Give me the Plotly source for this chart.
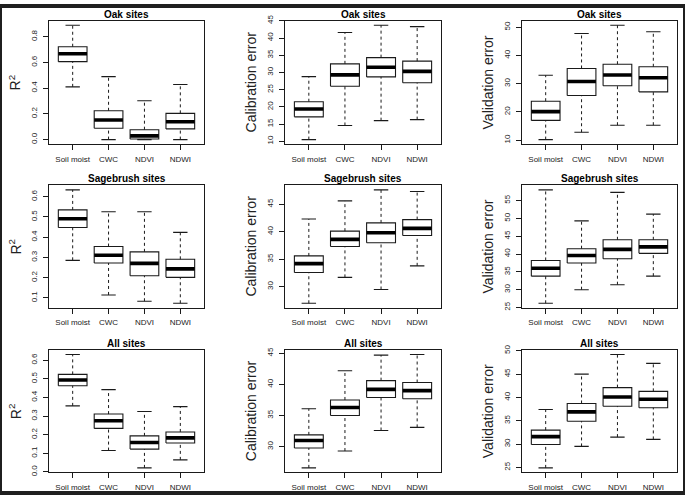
import plotly.graph_objects as go

categories = ["Soil moist", "CWC", "NDVI", "NDWI"]
row_titles = ["Oak sites", "Sagebrush sites", "All sites"]
col_titles = ["R<sup>2</sup>", "Calibration error", "Validation error"]

# ---- Oak sites ----
oak_r2_low = [0.41, 0.0, 0.0, 0.0]
oak_r2_q1 = [0.606, 0.088, 0.005, 0.083]
oak_r2_med = [0.668, 0.152, 0.029, 0.139]
oak_r2_q3 = [0.722, 0.224, 0.077, 0.204]
oak_r2_high = [0.889, 0.49, 0.302, 0.428]

oak_cal_low = [10.5, 14.6, 16.0, 16.3]
oak_cal_q1 = [17.1, 26.0, 28.7, 27.0]
oak_cal_med = [19.4, 29.3, 31.5, 30.3]
oak_cal_q3 = [21.5, 32.5, 34.3, 33.3]
oak_cal_high = [28.8, 41.6, 43.7, 43.3]

oak_val_low = [10.2, 12.8, 15.3, 15.3]
oak_val_q1 = [17.0, 25.8, 29.3, 27.1]
oak_val_med = [20.1, 30.8, 33.1, 32.1]
oak_val_q3 = [23.8, 35.4, 36.9, 36.0]
oak_val_high = [33.0, 47.8, 50.7, 48.4]

# ---- Sagebrush sites ----
sage_r2_low = [0.286, 0.115, 0.084, 0.074]
sage_r2_q1 = [0.448, 0.273, 0.210, 0.202]
sage_r2_med = [0.491, 0.311, 0.271, 0.244]
sage_r2_q3 = [0.535, 0.354, 0.328, 0.291]
sage_r2_high = [0.634, 0.526, 0.526, 0.424]

sage_cal_low = [27.0, 31.7, 29.5, 33.8]
sage_cal_q1 = [32.6, 37.3, 38.0, 39.3]
sage_cal_med = [34.2, 38.6, 39.8, 40.6]
sage_cal_q3 = [35.6, 40.1, 41.6, 42.2]
sage_cal_high = [42.3, 45.6, 47.6, 47.3]

sage_val_low = [26.2, 30.0, 31.4, 33.8]
sage_val_q1 = [33.8, 37.5, 38.7, 40.2]
sage_val_med = [36.0, 39.6, 41.3, 42.0]
sage_val_q3 = [38.2, 41.5, 44.0, 44.0]
sage_val_high = [58.0, 49.3, 57.3, 51.2]

# ---- All sites ----
all_r2_low = [0.355, 0.115, 0.022, 0.065]
all_r2_q1 = [0.463, 0.234, 0.123, 0.156]
all_r2_med = [0.494, 0.275, 0.158, 0.183]
all_r2_q3 = [0.524, 0.311, 0.194, 0.215]
all_r2_high = [0.631, 0.442, 0.325, 0.351]

all_cal_low = [26.6, 29.3, 32.6, 33.1]
all_cal_q1 = [29.8, 35.0, 37.9, 37.7]
all_cal_med = [31.0, 36.3, 39.2, 39.0]
all_cal_q3 = [31.9, 37.5, 40.6, 40.3]
all_cal_high = [36.1, 42.2, 44.7, 44.8]

all_val_low = [24.9, 29.5, 31.5, 31.0]
all_val_q1 = [29.9, 34.9, 38.1, 37.8]
all_val_med = [31.6, 36.9, 40.1, 39.6]
all_val_q3 = [33.0, 38.7, 42.1, 41.3]
all_val_high = [37.4, 45.0, 49.2, 47.3]

panels = [
    [(oak_r2_low, oak_r2_q1, oak_r2_med, oak_r2_q3, oak_r2_high),
     (oak_cal_low, oak_cal_q1, oak_cal_med, oak_cal_q3, oak_cal_high),
     (oak_val_low, oak_val_q1, oak_val_med, oak_val_q3, oak_val_high)],
    [(sage_r2_low, sage_r2_q1, sage_r2_med, sage_r2_q3, sage_r2_high),
     (sage_cal_low, sage_cal_q1, sage_cal_med, sage_cal_q3, sage_cal_high),
     (sage_val_low, sage_val_q1, sage_val_med, sage_val_q3, sage_val_high)],
    [(all_r2_low, all_r2_q1, all_r2_med, all_r2_q3, all_r2_high),
     (all_cal_low, all_cal_q1, all_cal_med, all_cal_q3, all_cal_high),
     (all_val_low, all_val_q1, all_val_med, all_val_q3, all_val_high)],
]

# tick settings (tick0, dtick, format)
ticks = [
    [(0.0, 0.2, ".1f"), (10, 5, "d"), (10, 10, "d")],
    [(0.1, 0.1, ".1f"), (30, 5, "d"), (25, 5, "d")],
    [(0.0, 0.1, ".1f"), (30, 5, "d"), (25, 5, "d")],
]

W, H = 685, 497
col_px = [(49, 204), (285, 441), (522, 677)]
row_px = [(15, 141), (183, 308), (351, 476)]

FONT = "Liberation Sans, Arial, sans-serif"
INK = "#1a1a1a"
positions = [1, 2, 3, 4]
HALF = 0.4   # half box width
CAP = 0.2    # half staple width

fig = go.Figure()
annotations = []
layout_axes = {}

for r in range(3):
    for c in range(3):
        idx = r * 3 + c + 1
        xa = "x" if idx == 1 else f"x{idx}"
        ya = "y" if idx == 1 else f"y{idx}"
        low, q1, med, q3, high = panels[r][c]

        # boxes
        bx, by = [], []
        for p, a, b in zip(positions, q1, q3):
            bx += [p - HALF, p + HALF, p + HALF, p - HALF, p - HALF, None]
            by += [a, a, b, b, a, None]
        fig.add_trace(go.Scatter(x=bx, y=by, mode="lines", xaxis=xa, yaxis=ya,
                                 line=dict(color=INK, width=1.1), fill="toself",
                                 fillcolor="white", hoverinfo="skip", showlegend=False))
        # whiskers (dashed)
        wx, wy = [], []
        for p, lo, a, b, hi in zip(positions, low, q1, q3, high):
            wx += [p, p, None, p, p, None]
            wy += [lo, a, None, b, hi, None]
        fig.add_trace(go.Scatter(x=wx, y=wy, mode="lines", xaxis=xa, yaxis=ya,
                                 line=dict(color=INK, width=1, dash="3px,3px"),
                                 hoverinfo="skip", showlegend=False))
        # staples
        sx, sy = [], []
        for p, lo, hi in zip(positions, low, high):
            sx += [p - CAP, p + CAP, None, p - CAP, p + CAP, None]
            sy += [lo, lo, None, hi, hi, None]
        fig.add_trace(go.Scatter(x=sx, y=sy, mode="lines", xaxis=xa, yaxis=ya,
                                 line=dict(color=INK, width=1.1),
                                 hoverinfo="skip", showlegend=False))
        # medians
        mx, my = [], []
        for p, m in zip(positions, med):
            mx += [p - HALF, p + HALF, None]
            my += [m, m, None]
        fig.add_trace(go.Scatter(x=mx, y=my, mode="lines", xaxis=xa, yaxis=ya,
                                 line=dict(color="black", width=3.6),
                                 hoverinfo="skip", showlegend=False))

        lo_all, hi_all = min(low), max(high)
        pad = 0.04 * (hi_all - lo_all)
        x0, x1 = col_px[c]
        y0, y1 = row_px[r]
        t0, dt, fmt = ticks[r][c]
        common = dict(showline=True, mirror=True, linecolor=INK, linewidth=1,
                      ticks="outside", ticklen=5, tickcolor=INK, showgrid=False,
                      zeroline=False, tickfont=dict(family=FONT, size=8, color="#222"))
        layout_axes["xaxis" if idx == 1 else f"xaxis{idx}"] = dict(
            domain=[x0 / W, x1 / W], range=[0.34, 4.66], anchor=ya,
            tickmode="array", tickvals=positions, ticktext=categories,
            ticklabelstandoff=2, **common)
        layout_axes["yaxis" if idx == 1 else f"yaxis{idx}"] = dict(
            domain=[1 - y1 / H, 1 - y0 / H], range=[lo_all - pad, hi_all + pad],
            anchor=xa, tickmode="linear", tick0=t0, dtick=dt, tickformat=fmt,
            tickangle=-90, ticklabelstandoff=3, **common)

        # panel title
        annotations.append(dict(text=f"<b>{row_titles[r]}</b>", xref="paper", yref="paper",
                                x=(x0 + x1) / 2 / W, y=1 - (y0 - 6.5) / H,
                                xanchor="center", yanchor="middle", showarrow=False,
                                font=dict(family=FONT, size=10, color="black")))
        # y title
        annotations.append(dict(text=col_titles[c], xref="paper", yref="paper",
                                x=(x0 - 34) / W, y=1 - (y0 + y1) / 2 / H,
                                xanchor="center", yanchor="middle", textangle=-90,
                                showarrow=False,
                                font=dict(family=FONT, size=14, color="#222")))

fig.update_layout(
    width=W, height=H, margin=dict(l=0, r=0, t=0, b=0),
    paper_bgcolor="white", plot_bgcolor="white",
    annotations=annotations,
    shapes=[dict(type="rect", xref="paper", yref="paper", x0=0, x1=1, y0=0, y1=1,
                 line=dict(color="#1f1f1f", width=4))],
    **layout_axes,
)

fig.write_html(
    "out.html",
    config={"displayModeBar": False},
    post_script="document.body.style.margin='0px';document.body.style.overflow='hidden';",
)
